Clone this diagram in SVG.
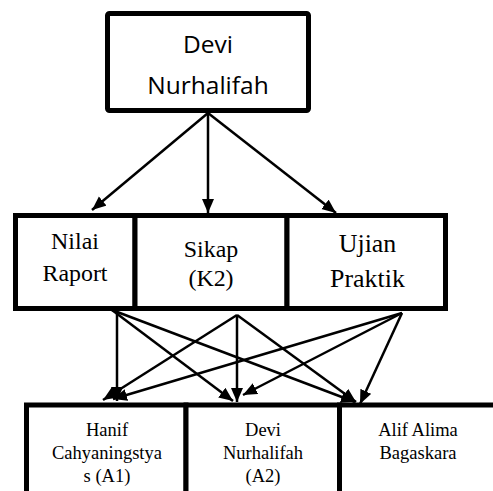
<svg xmlns="http://www.w3.org/2000/svg" width="493" height="491" viewBox="0 0 493 491">
<style>
.box{fill:#fff;stroke:#000;stroke-width:5}
.c{fill:none;stroke:#000;stroke-width:2.5;marker-end:url(#ah)}
</style>
<defs>
<marker id="ah" markerUnits="userSpaceOnUse" markerWidth="15" markerHeight="13" refX="14" refY="6" orient="auto">
<path d="M0,0 L14,6 L0,12 z" fill="#000"/>
</marker>
</defs>
<rect width="493" height="491" fill="#fff"/>
<g id="connectors">
<line class="c" x1="208" y1="113" x2="92" y2="210"/>
<line class="c" x1="208" y1="113" x2="208" y2="213"/>
<line class="c" x1="208" y1="113" x2="336" y2="213"/>
<line class="c" x1="117" y1="311" x2="117" y2="401"/>
<line class="c" x1="112" y1="310" x2="233" y2="401"/>
<line class="c" x1="112" y1="310" x2="355" y2="402"/>
<line class="c" x1="237" y1="315" x2="103" y2="400"/>
<line class="c" x1="237" y1="315" x2="237" y2="402"/>
<line class="c" x1="237" y1="315" x2="356" y2="402"/>
<line class="c" x1="402" y1="313" x2="113" y2="399"/>
<line class="c" x1="402" y1="313" x2="243" y2="395"/>
<line class="c" x1="402" y1="313" x2="360" y2="404"/>
</g>
<g id="devi-top" style="font-family:'Open Sans','Noto Sans',sans-serif;font-size:24.5px" text-anchor="middle" fill="#000">
<rect class="box" x="107.5" y="13.5" width="201" height="97" rx="2"/>
<text x="208" y="53">Devi</text>
<text x="208" y="94">Nurhalifah</text>
</g>
<g id="nilai-raport" text-anchor="middle" fill="#000">
<rect class="box" x="15.5" y="215.5" width="119.5" height="93"/>
<text x="75" y="249" style="font-family:'Liberation Serif',serif;font-size:23.9px">Nilai</text>
<text x="75" y="281" style="font-family:'Liberation Serif',serif;font-size:23.9px">Raport</text>
</g>
<g id="sikap" text-anchor="middle" fill="#000">
<rect class="box" x="135" y="215.5" width="152" height="93"/>
<text x="211" y="257" style="font-family:'Liberation Serif',serif;font-size:23.9px">Sikap</text>
<text x="211" y="286" style="font-family:'Liberation Serif',serif;font-size:23.9px">(K2)</text>
</g>
<g id="ujian-praktik" text-anchor="middle" fill="#000">
<rect class="box" x="287" y="215.5" width="158.5" height="93"/>
<text x="367.5" y="252" style="font-family:'Liberation Serif',serif;font-size:25.9px">Ujian</text>
<text x="367.5" y="287" style="font-family:'Liberation Serif',serif;font-size:25.9px">Praktik</text>
</g>
<g id="hanif" style="font-family:'Liberation Serif',serif;font-size:18.5px" text-anchor="middle" fill="#000">
<rect class="box" x="26.5" y="405" width="159.5" height="100"/>
<text x="107" y="436">Hanif</text>
<text x="107" y="459">Cahyaningstya</text>
<text x="107" y="482">s (A1)</text>
</g>
<g id="devi-a2" style="font-family:'Liberation Serif',serif;font-size:18.5px" text-anchor="middle" fill="#000">
<rect class="box" x="186" y="405" width="153.5" height="100"/>
<text x="263" y="436">Devi</text>
<text x="263" y="459">Nurhalifah</text>
<text x="263" y="482">(A2)</text>
</g>
<g id="alif" style="font-family:'Liberation Serif',serif;font-size:18.5px" text-anchor="middle" fill="#000">
<rect class="box" x="339.5" y="405" width="170" height="100"/>
<text x="418" y="436">Alif Alima</text>
<text x="418" y="459">Bagaskara</text>
</g>
</svg>
